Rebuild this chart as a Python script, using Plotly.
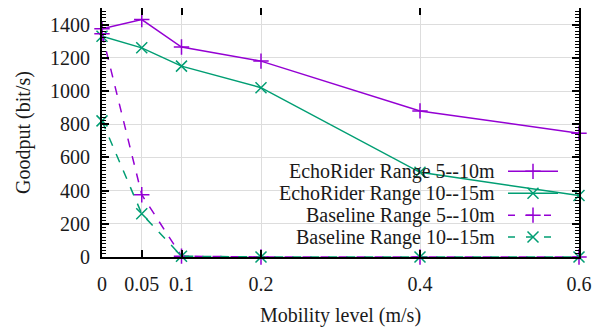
import plotly.graph_objects as go

mobility = [0, 0.05, 0.1, 0.2, 0.4, 0.6]
echo_5_10 = [1375, 1430, 1265, 1180, 880, 745]
echo_10_15 = [1330, 1260, 1150, 1020, 510, 370]
base_5_10 = [1345, 375, 5, 0, 0, 0]
base_10_15 = [820, 260, 5, 0, 0, 0]
names = ["EchoRider Range 5--10m", "EchoRider Range 10--15m",
         "Baseline Range 5--10m", "Baseline Range 10--15m"]
x_ticks = [0, 0.05, 0.1, 0.2, 0.4, 0.6]
x_tick_labels = ["0", "0.05", "0.1", "0.2", "0.4", "0.6"]

PURPLE = "#9400D3"
GREEN = "#009E73"
FONT = "Liberation Serif"
TXT = "#1a1a1a"

series = [
    (names[0], echo_5_10, PURPLE, "solid", "cross-thin"),
    (names[1], echo_10_15, GREEN, "solid", "x-thin"),
    (names[2], base_5_10, PURPLE, "9px,9px", "cross-thin"),
    (names[3], base_10_15, GREEN, "9px,9px", "x-thin"),
]

fig = go.Figure()
for name, vals, col, dash, sym in series:
    fig.add_trace(go.Scatter(
        x=mobility, y=vals, mode="lines+markers", name=name,
        line=dict(color=col, width=1.5, dash=dash),
        marker=dict(symbol=sym, size=11, line=dict(color=col, width=1.5)),
        cliponaxis=False, showlegend=False))

# page offset (body margin) compensation: target plot area in page px
OFF = 8
PL, PR, PT, PB = 102, 579, 7, 257
L = PL - OFF
R = 604 - (PR - OFF)
T = max(PT - OFF, 0)
B = 333 - (PB - OFF)
W = PR - PL
H = PB - PT

# manual gnuplot-style key (text right-aligned, sample on the right)
rows_px = [171, 193, 215, 237]
for (name, vals, col, dash, sym), py in zip(series, rows_px):
    yy = (PB - py) / H
    x0 = (508 - PL) / W
    x1 = (558 - PL) / W
    xm = (533 - PL) / W
    fig.add_trace(go.Scatter(
        x=[x0, x1], y=[yy, yy], xaxis="x2", yaxis="y2", mode="lines",
        line=dict(color=col, width=1.5, dash=dash if dash == "solid" else "7px,11px"),
        showlegend=False, hoverinfo="skip"))
    fig.add_trace(go.Scatter(
        x=[xm], y=[yy], xaxis="x2", yaxis="y2", mode="markers",
        marker=dict(symbol=sym, size=11, line=dict(color=col, width=1.5)),
        showlegend=False, hoverinfo="skip"))
    fig.add_annotation(x=(497 - PL) / W, y=yy, xref="x2", yref="y2", text=name,
                       showarrow=False, xanchor="right", yanchor="middle",
                       font=dict(family=FONT, size=20, color=TXT))

tickfont = dict(family=FONT, size=20, color=TXT)
titlefont = dict(family=FONT, size=20, color=TXT)
fig.update_layout(
    width=604, height=333,
    margin=dict(l=L, r=R, t=T, b=B, autoexpand=False),
    paper_bgcolor="white", plot_bgcolor="white",
    font=dict(family=FONT, size=18, color=TXT),
    xaxis=dict(range=[0, 0.6], tickvals=x_ticks, ticktext=x_tick_labels,
               tickfont=tickfont,
               showgrid=True, gridcolor="#dddddd", gridwidth=1,
               ticks="inside", ticklen=7, tickwidth=1.5, tickcolor="black",
               showline=True, linecolor="black", linewidth=2, mirror="ticks",
               zeroline=False, ticklabelstandoff=8,
               title=dict(text="Mobility level (m/s)", standoff=14, font=titlefont)),
    yaxis=dict(range=[0, 1500], tickvals=[0, 200, 400, 600, 800, 1000, 1200, 1400],
               tickfont=tickfont,
               showgrid=True, gridcolor="#dddddd", gridwidth=1,
               ticks="inside", ticklen=7, tickwidth=1.5, tickcolor="black",
               showline=True, linecolor="black", linewidth=2, mirror="ticks",
               zeroline=False, ticklabelstandoff=6,
               minor=dict(dtick=20, ticks="inside", ticklen=4, tickwidth=1,
                          tickcolor="black", showgrid=False),
               title=dict(text="Goodput (bit/s)", standoff=14, font=titlefont)),
    xaxis2=dict(range=[0, 1], overlaying="x", visible=False),
    yaxis2=dict(range=[0, 1], overlaying="y", visible=False),
)
fig.write_html("out.html")
